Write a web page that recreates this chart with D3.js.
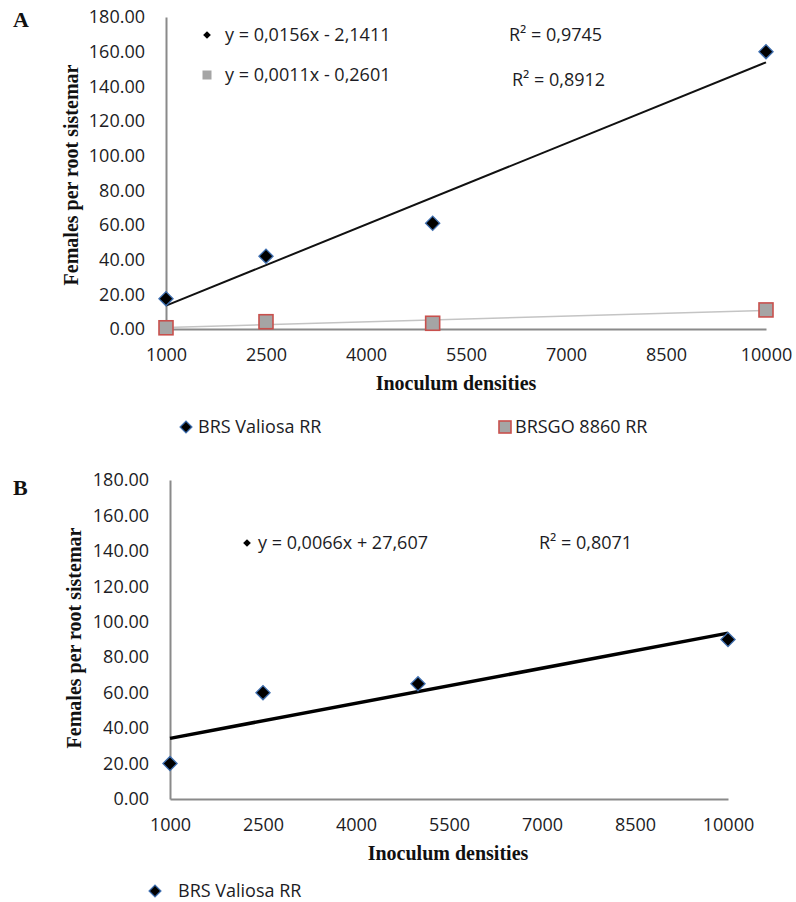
<!DOCTYPE html>
<html>
<head>
<meta charset="utf-8">
<script src="https://cdn.jsdelivr.net/npm/d3@7"></script>
<style>
  body { margin: 0; background: #fff; }
  svg { display: block; }
  .tick text { font-family: "Open Sans", sans-serif; font-size: 18px; fill: #1c1c24; }
  .serif { font-family: "Liberation Serif", "Times New Roman", serif; font-weight: bold; fill: #111; }
  .sans { font-family: "Open Sans", sans-serif; font-size: 18px; fill: #1c1c24; }
</style>
</head>
<body>
<svg id="chart" width="796" height="902"></svg>
<script>
// data
var densities = [1000, 2500, 5000, 10000];
var valiosaA = [17.5, 42, 61, 160];
var brsgoA = [0.7, 4.2, 3.3, 11];
var valiosaB = [20, 60, 65, 90];

var xTicks = [1000, 2500, 4000, 5500, 7000, 8500, 10000];
var yTicks = [0, 20, 40, 60, 80, 100, 120, 140, 160, 180];

// trendline equations shown in the chart
var fitValiosaA = [0.0156, -2.1411];
var fitBrsgoA = [0.0011, -0.2601];
var fitValiosaB = [0.0066, 27.607];

var eqTextA = ["y = 0,0156x - 2,1411", "y = 0,0011x - 0,2601"];
var r2TextA = ["R² = 0,9745", "R² = 0,8912"];
var eqTextB = ["y = 0,0066x + 27,607"];
var r2TextB = ["R² = 0,8071"];

var legendA = ["BRS Valiosa RR", "BRSGO 8860 RR"];
var legendB = ["BRS Valiosa RR"];

var svg = d3.select("#chart");

var diamond = d3.symbol().type(d3.symbolSquare);

function drawDiamond(g, x, y, size) {
    g.append("path")
        .attr("d", diamond.size(size)())
        .attr("transform", "translate(" + x + "," + y + ") rotate(45)")
        .attr("fill", "#000")
        .attr("stroke", "#3f6fb0")
        .attr("stroke-width", 1.3);
}

function drawSquare(g, x, y, side) {
    g.append("rect")
        .attr("x", x - side / 2).attr("y", y - side / 2)
        .attr("width", side).attr("height", side)
        .attr("fill", "#a5a5a5")
        .attr("stroke", "#c8504d")
        .attr("stroke-width", 1.6);
}

function drawPanel(p) {
    var g = svg.append("g");

    var x = d3.scaleLinear().domain([1000, 10000]).range([p.left, p.right]);
    var y = d3.scaleLinear().domain([0, 180]).range([p.bottom, p.top]);

    // panel letter
    g.append("text").attr("class", "serif")
        .attr("x", 13).attr("y", p.letterY)
        .style("font-size", "22px")
        .text(p.letter);

    // axes
    var yAxis = g.append("g")
        .attr("transform", "translate(" + p.left + ",0)")
        .call(d3.axisLeft(y).tickValues(yTicks).tickSize(0).tickPadding(21)
            .tickFormat(d3.format(".2f")));
    yAxis.select(".domain").attr("stroke", "#8a8a8a").attr("stroke-width", 2);

    var xAxis = g.append("g")
        .attr("transform", "translate(0," + p.bottom + ")")
        .call(d3.axisBottom(x).tickValues(xTicks).tickSize(0).tickPadding(19)
            .tickFormat(d3.format("d")));
    xAxis.select(".domain").attr("stroke", "#8a8a8a").attr("stroke-width", 2);

    // axis titles
    g.append("text").attr("class", "serif")
        .attr("x", p.xTitleX).attr("y", p.bottom + 61)
        .attr("text-anchor", "middle")
        .style("font-size", "20px")
        .text("Inoculum densities");

    g.append("text").attr("class", "serif")
        .attr("transform", "translate(" + p.yTitleX + "," + p.yTitleY + ") rotate(-90)")
        .attr("text-anchor", "middle")
        .style("font-size", "20px")
        .text("Females per root sistemar");

    // trendlines
    p.series.forEach(function (s) {
        var line = d3.line()
            .x(function (d) { return x(d); })
            .y(function (d) { return y(s.fit[0] * d + s.fit[1]); });
        g.append("path")
            .datum([1000, 10000])
            .attr("d", line)
            .attr("fill", "none")
            .attr("stroke", s.lineColor)
            .attr("stroke-width", s.lineWidth);
    });

    // markers
    p.series.forEach(function (s) {
        densities.forEach(function (d, i) {
            if (s.marker == "diamond") drawDiamond(g, x(d), y(s.values[i]), 100);
            else drawSquare(g, x(d), y(s.values[i]), 14);
        });
    });

    // equations
    p.series.forEach(function (s, i) {
        var e = p.eqs[i];
        if (s.marker == "diamond") {
            g.append("path")
                .attr("d", diamond.size(30)())
                .attr("transform", "translate(" + e.mx + "," + e.my + ") rotate(45)")
                .attr("fill", "#000");
        } else {
            g.append("rect")
                .attr("x", e.mx - 4.5).attr("y", e.my - 4.5)
                .attr("width", 9).attr("height", 9)
                .attr("fill", "#a5a5a5");
        }
        g.append("text").attr("class", "sans")
            .attr("x", e.tx).attr("y", e.ty)
            .text(s.eq);
        g.append("text").attr("class", "sans")
            .attr("x", e.rx).attr("y", e.ry)
            .text(s.r2);
    });

    // legend
    p.series.forEach(function (s, i) {
        var l = p.legend[i];
        if (s.marker == "diamond") drawDiamond(g, l.mx, l.my, 70);
        else drawSquare(g, l.mx, l.my, 12);
        g.append("text").attr("class", "sans")
            .attr("x", l.tx).attr("y", l.my + 6)
            .text(s.name);
    });
}

drawPanel({
    letter: "A", letterY: 27,
    left: 166, right: 766, top: 17, bottom: 329,
    xTitleX: 456, yTitleX: 78, yTitleY: 175,
    series: [
        { name: legendA[0], values: valiosaA, fit: fitValiosaA, marker: "diamond",
          lineColor: "#111", lineWidth: 2, eq: eqTextA[0], r2: r2TextA[0] },
        { name: legendA[1], values: brsgoA, fit: fitBrsgoA, marker: "square",
          lineColor: "#c4c4c4", lineWidth: 1.6, eq: eqTextA[1], r2: r2TextA[1] }
    ],
    eqs: [
        { mx: 207, my: 35, tx: 225, ty: 41, rx: 509, ry: 41 },
        { mx: 207, my: 75, tx: 225, ty: 81, rx: 512, ry: 86 }
    ],
    legend: [
        { mx: 186, my: 427, tx: 198 },
        { mx: 505, my: 427, tx: 515 }
    ]
});

drawPanel({
    letter: "B", letterY: 495,
    left: 170, right: 728, top: 480, bottom: 799,
    xTitleX: 448, yTitleX: 81, yTitleY: 638,
    series: [
        { name: legendB[0], values: valiosaB, fit: fitValiosaB, marker: "diamond",
          lineColor: "#000", lineWidth: 3.5, eq: eqTextB[0], r2: r2TextB[0] }
    ],
    eqs: [
        { mx: 247, my: 543, tx: 258, ty: 549, rx: 539, ry: 549 }
    ],
    legend: [
        { mx: 155, my: 891, tx: 178 }
    ]
});
</script>
</body>
</html>
